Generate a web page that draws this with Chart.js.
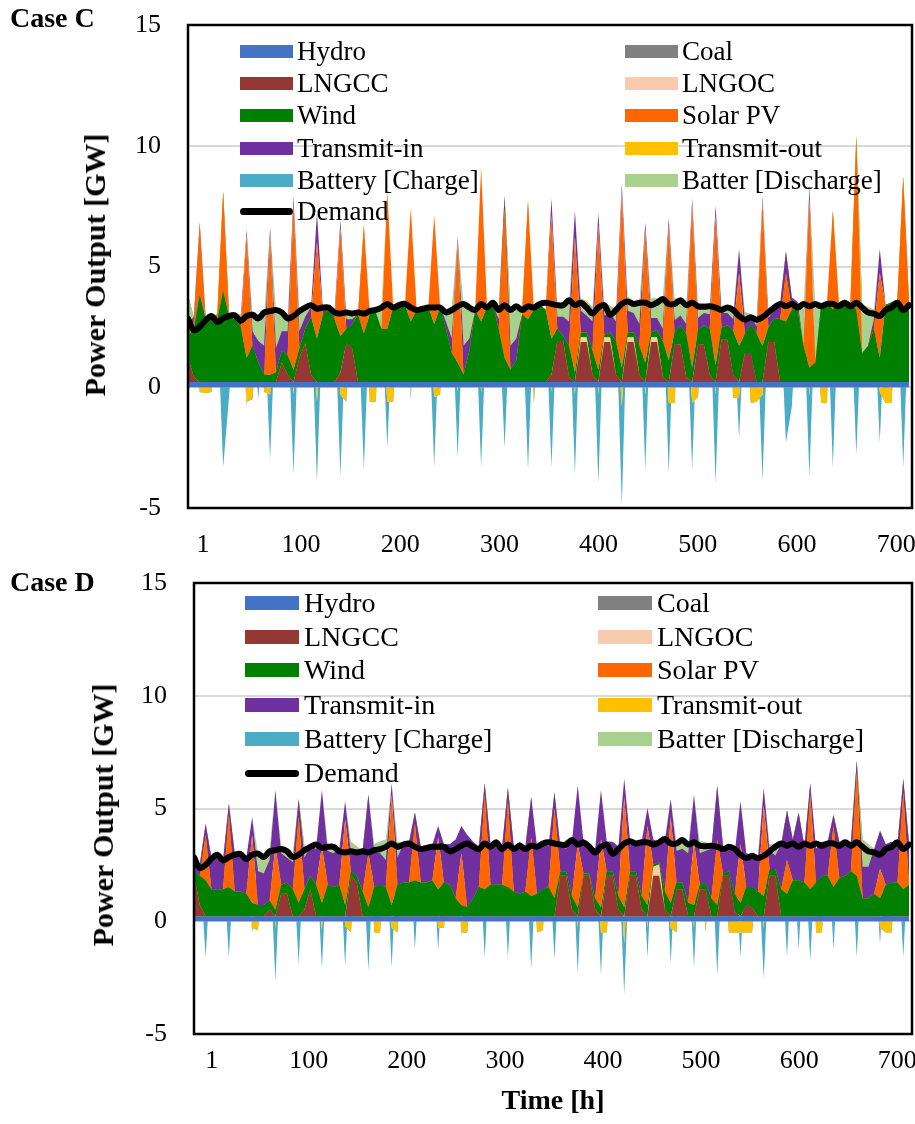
<!DOCTYPE html>
<html>
<head>
<meta charset="utf-8">
<script src="https://cdn.jsdelivr.net/npm/chart.js@4.4.1/dist/chart.umd.min.js"></script>
<style>
  body { margin: 0; background: #fff; font-family: "Liberation Serif", "Times New Roman", serif; }
  #page { position: relative; width: 915px; height: 1124px; overflow: hidden; }
  .panel { position: absolute; left: 0; width: 915px; }
  .lbl { position: absolute; white-space: nowrap; color: #000; line-height: 1; }
  .bold { font-weight: bold; }
  .ytitle { transform: translate(-50%, -50%) rotate(-90deg); }
  .center { transform: translate(-50%, -50%); }
  .item { position: absolute; display: flex; align-items: center; white-space: nowrap; line-height: 1; }
  .sw { display: inline-block; }
</style>
</head>
<body>
<div id="page">
  <div class="panel" style="top:0;height:560px"><canvas id="chartC"></canvas></div>
  <div class="panel" style="top:560px;height:564px"><canvas id="chartD"></canvas></div>
  <div class="lbl bold" style="left:10px;top:4px;font-size:28px">Case C</div>
  <div class="lbl bold" style="left:10px;top:568px;font-size:28px">Case D</div>
  <div class="lbl bold ytitle" style="left:95px;top:265px;font-size:30px">Power Output [GW]</div>
  <div class="lbl bold ytitle" style="left:103px;top:815px;font-size:30px">Power Output [GW]</div>
  <div class="lbl bold center" style="left:553px;top:1100px;font-size:28px">Time [h]</div>
  <div id="legC"></div>
  <div id="legD"></div>
</div>
<script>
// time axis: 31 days, four readings per day (01h, 07h, 13h, 19h)
const slotHours = [1, 7, 13, 19];
const dayCount = 31;
const hours = [];
for (let d = 0; d < dayCount; d++) for (const h of slotHours) hours.push(d * 24 + h);

const xTickLabels = [1, 100, 200, 300, 400, 500, 600, 700];
const yTicks = [-5, 0, 5, 10, 15];

const seriesNames = ["Hydro", "Coal", "LNGCC", "LNGOC", "Wind", "Solar PV", "Transmit-in",
  "Transmit-out", "Battery [Charge]", "Batter [Discharge]", "Demand"];

const hydroLevel = 0.22;
const coalLevel = 0;
const Z = [0, 0, 0, 0];

// demand is the same in both cases
const demand = [[2.84,2.36,2.50,2.77],[2.95,2.70,2.85,2.95],[2.98,2.75,2.95,3.00],[2.85,3.10,3.15,3.20],
  [3.10,2.85,2.95,3.15],[3.30,3.40,3.25,3.30],[3.30,3.10,3.05,3.10],[3.05,3.10,3.05,3.15],
  [3.20,3.30,3.45,3.30],[3.40,3.45,3.30,3.20],[3.25,3.30,3.30,3.30],[3.10,3.20,3.35,3.45],
  [3.30,3.20,3.45,3.30],[3.50,3.20,3.40,3.20],[3.35,3.20,3.35,3.30],[3.45,3.50,3.45,3.40],
  [3.40,3.60,3.40,3.50],[3.30,3.05,3.30,3.40],[3.00,3.20,3.45,3.55],[3.45,3.50,3.50,3.40],
  [3.50,3.65,3.45,3.45],[3.60,3.40,3.50,3.35],[3.33,3.35,3.30,3.20],[3.30,3.20,2.95,2.80],
  [2.90,2.80,2.90,3.10],[3.30,3.45,3.35,3.45],[3.30,3.45,3.35,3.45],[3.35,3.45,3.45,3.35],
  [3.50,3.35,3.50,3.30],[3.10,3.05,2.95,3.20],[3.30,3.50,3.20,3.40]].flat();

// ---- Case C ----
const lngccC = [[1.0,0.2,0,0],Z,Z,Z,[0.8,0.3,0,1.0],[1.6,0.3,0,0],[0,0,0.4,1.6],[1.4,0,0,0],
  Z,Z,Z,Z,Z,Z,Z,[0,0,0.3,1.7],[1.7,0.2,0,1.65],[1.65,0.3,0,1.65],[1.65,0.3,0,1.65],[1.65,0.3,0,1.65],
  [1.65,0.2,0,1.55],[1.55,0.2,0,1.55],[1.55,0.3,0,1.75],[1.75,0.3,0,1.2],[1.2,0,0,1.65],[1.65,0,0,0],
  Z,Z,Z,Z,Z].flat();
const lngocC = [Z,Z,Z,Z,Z,Z,Z,Z,Z,Z,Z,Z,Z,Z,Z,Z,[0,0,0,0.2],[0.2,0,0,0.2],[0.2,0,0,0.2],[0.2,0,0,0.2],
  [0.2,0,0,0],Z,Z,Z,Z,Z,Z,Z,Z,Z,Z].flat();
const windC = [[0.9,2.0,3.6,2.6],[2.7,2.6,3.8,2.7],[2.6,2.3,1.0,1.5],[0.8,0.3,0.3,0.4],[0.5,0.8,0.5,0.4],
  [0.6,2.4,1.8,2.8],[3.0,2.6,1.5,0.6],[1.0,2.8,2.0,2.8],[2.9,2.2,2.2,3.1],[3.2,3.2,2.5,3.0],
  [3.0,3.1,2.4,3.1],[2.2,1.2,0.8,0.3],[1.3,3.0,2.5,3.1],[3.2,2.2,1.0,0.5],[0.9,2.8,2.6,3.0],
  [3.2,3.0,1.5,0.5],[0.2,1.3,0.4,0.2],[0.2,1.0,0.5,0.1],[0.2,1.4,0.6,0.2],[0.2,1.2,0.8,0.2],
  [0.3,1.5,0.9,0.5],[0.8,1.8,0.6,0.6],[0.8,1.9,0.7,0.5],[0.6,1.8,1.5,0.8],[1.2,2.0,1.5,0.6],
  [1.0,2.6,2.5,3.0],[3.0,1.5,0.6,0.8],[3.2,3.3,3.0,3.3],[3.4,3.3,3.0,1.2],[1.5,2.2,1.0,3.2],
  [3.3,3.4,3.0,3.3]].flat();
const solarC = [[0,0.3,3.0,0],[0,0.2,4.1,0],[0,0,5.1,0],[0,0,5.8,0],[0,0,6.9,0],[0,0,4.0,0],[0,0,4.5,0],
  [0,0,4.5,0],[0,0,5.7,0],[0,0,4.7,0],[0,0,4.5,0],[0,0,5.0,0],[0,0,6.4,0],[0,0,6.2,0],[0,0,4.9,0],
  [0,0,5.1,0],[0,0,5.6,0],[0,0,6.0,0],[0,0,7.3,0],[0,0,5.5,0],[0,0,5.6,0],[0,0,6.7,0],[0,0,6.2,0],
  [0,0,3.0,0],[0,0,6.0,0],[0,0,2.0,0],[0,0,7.0,0],[0,0,4.1,0],[0,0,7.2,0],[0,0,3.5,0],[0,0,5.5,0]].flat();
const transInC = [[0.5,0.2,0,0.1],[0,0,0,0.1],[0.2,0.3,0.2,0.6],[0.9,1.2,0.3,1.0],[0.8,1.0,0.3,0.7],
  [0.5,0.4,1.2,0.2],[0.1,0.3,0.3,0.4],[0.2,0,0,0],Z,Z,Z,[0.3,0.6,0.2,1.2],[0.5,0,0,0],[0,0.4,0.5,1.0],
  [0.9,0,0,0],[0,0,0.7,0.5],[0.8,1.0,1.1,0.9],[0.7,1.2,0.5,0.8],[0.8,0.8,0.3,0.9],[0.8,0.9,0.3,0.6],
  [0.5,0.5,0.3,0.5],[0.4,0.4,0.3,0.5],[0.5,0.6,0.4,0.6],[0.5,0.5,1.0,0.5],[0.3,0.3,0.2,0.4],
  [0.3,0.6,0.9,0.5],[0.3,0,0.5,0],Z,Z,[0,0.4,1.0,0],Z].flat();
const dischargeC = [[1.2,0,0,0],Z,[0,0.2,0,0.7],[1.1,1.3,0,1.6],[0.8,0.6,0,0.9],[0.5,0,0,0],[0,0,0,0.3],
  [0.3,0,0,0.2],[0,0.9,0,0],Z,Z,[0.5,1.3,0,1.7],[1.3,0,0,0],[0,0.4,0,1.5],[1.3,0.2,0,0],[0,0,0,0.4],
  [0.6,0.8,0,0.5],[0.6,0.6,0,0.5],[0.3,0.5,0,0.6],[0.5,0.9,0,0.8],[0.8,1.3,0,0.9],[0.7,0.8,0,0.6],
  [0.4,0.4,0,0.3],[0.3,0.3,0,0.4],[0.1,0.3,0,0.4],[0.2,0,0,0],[0,1.5,0,2.3],Z,[0,0,0,2.0],[1.6,0.4,0,0],
  Z].flat();
const transOutC = [[-0.8,0,-0.2,-0.25],[-0.2,0,0,0],[0,0,-0.6,-0.5],[0,-0.2,-0.3,0],[0,0,-0.3,0],
  [0,0,-0.6,0],[0,0,-0.3,-0.6],[0,0,0,-0.6],[-0.6,0,-0.6,-0.6],[0,0,-0.3,0],[0,0,-0.4,-0.3],[0,0,-0.2,0],
  [0,0,-0.2,0],Z,[0,0,0,-0.7],[0,0,-0.2,0],[0,0,-0.3,0],[0,0,-0.3,0],[0,0,-0.8,0],[0,0,-0.3,0],
  [0,0,-0.65,-0.65],[0,0,-0.65,-0.4],[0,0,-0.3,0],[0,-0.45,-0.45,0],[-0.65,-0.6,-0.3,0],Z,[0,0,-0.35,0],
  [-0.65,-0.65,0,0],Z,[0,0,-0.2,-0.65],[-0.65,0,0,0]].flat();
const chargeC = [Z,[0,0,-3.3,-0.4],[0,0,-0.2,0],[-0.5,0,-2.7,0],[0,0,-3.3,0],[0,0,-3.3,0],[0,0,-3.4,0],
  [0,0,-3.4,0],[0,0,-1.9,0],[0,0,-0.2,0],[0,0,-2.9,0],[0,0,-2.7,0],[0,0,-3.1,0],[0,0,-2.5,0],
  [0,0,-3.4,0],[0,0,-3.1,0],[0,0,-3.3,0],[0,0,-3.7,0],[0,0,-4.1,0],[0,0,-3.1,0],[0,0,-2.95,0],
  [0,0,-2.75,0],[0,0,-3.7,0],[0,0,-1.65,0],[0,0,-3.55,0],[0,0,-2.3,-0.8],[0,0,-3.35,0],[0,0,-3.3,0],
  [0,0,-2.8,0],[0,0,-2.1,0],[0,0,-3.3,0]].flat();

// ---- Case D ----
const lngccD = [[1.8,0.5,0,0],Z,Z,[0,0.3,0,1.0],[1.0,0,0,0.3],[1.2,0,0,0],[0,0,0,1.8],[1.5,0,0,0],
  Z,Z,Z,Z,Z,Z,Z,[0,0,0,1.8],[1.8,0.3,0,1.8],[1.8,0.3,0,1.8],[1.8,0.3,0,1.8],[1.8,0.3,0,1.8],
  [1.8,0.3,0,1.2],[1.2,0,0,1.2],[1.2,0,0,1.8],[1.8,0.2,0,0.5],[0.4,0,0,1.8],[1.8,0,0,0],
  Z,Z,Z,Z,Z].flat();
const lngocD = [Z,Z,Z,Z,Z,Z,Z,Z,Z,Z,Z,Z,Z,Z,Z,Z,Z,Z,Z,[0,0,0,0.4],[0.5,0,0,0],
  Z,Z,Z,Z,Z,Z,Z,Z,Z,Z].flat();
const windD = [[0.2,1.3,1.6,1.2],[1.2,1.2,1.3,1.1],[1.1,1.0,0.6,0.5],[0.5,0.4,0.3,0.4],[0.5,1.2,0.6,0.9],
  [0.6,1.4,0.6,1.4],[1.3,1.4,0.5,0.2],[0.3,1.1,0.4,1.3],[1.4,1.3,0.5,1.4],[1.5,1.5,1.6,1.5],
  [1.5,1.6,1.2,1.5],[1.4,0.8,0.5,0.4],[0.8,1.3,1.2,1.4],[1.4,1.4,1.3,1.1],[1.0,1.1,0.9,1.0],
  [1.2,1.3,0.8,0.2],[0.2,0.6,0.4,0.1],[0.1,0.5,0.4,0.2],[0.2,0.6,0.4,0.2],[0.2,0.6,0.5,0.1],
  [0.1,0.8,0.6,0.3],[0.3,0.6,0.5,0.2],[0.3,0.8,0.5,0.1],[0.2,0.8,0.6,0.8],[0.9,1.1,0.9,0.3],
  [0.3,1.2,1.0,1.6],[1.6,1.5,1.2,1.5],[1.8,1.8,1.3,1.7],[1.8,2.0,1.8,0.8],[0.8,1.0,0.8,1.4],
  [1.5,1.5,1.2,1.4]].flat();
const solarD = [[0,0,2.0,0],[0,0,3.2,0],[0,0,3.0,0],[0,0,2.8,0],[0,0,3.8,0],[0,0,2.5,0],[0,0,3.8,0],
  [0,0,2.4,0],[0,0,4.9,0],[0,0,2.5,0],[0,0,2.3,0],[0,0,2.3,0],[0,0,4.2,0],[0,0,3.8,0],[0,0,2.6,0],
  [0,0,4.0,0],[0,0,2.8,0],[0,0,3.0,0],[0,0,4.9,0],[0,0,3.5,0],[0,0,3.8,0],[0,0,2.8,0],[0,0,2.9,0],
  [0,0,2.6,0],[0,0,4.0,0],[0,0,1.5,0],[0,0,4.2,0],[0,0,2.7,0],[0,0,4.6,0],[0,0,1.3,0],[0,0,4.3,0]].flat();
const transInD = [[0.5,0.5,0.5,1.4],[1.5,1.3,0.5,1.7],[1.7,1.6,0.8,1.5],[1.4,1.8,2.5,1.4],[1.1,1.2,0.8,1.4],
  [1.3,1.6,2.5,1.5],[1.5,1.6,0.8,0.8],[1.0,1.8,2.6,1.6],[1.4,1.2,0.5,1.2],[1.7,1.8,0.5,1.6],
  [1.6,1.6,0.5,1.7],[1.8,2.6,1.2,3.2],[2.5,1.8,0.5,1.8],[1.9,1.7,0.6,2.0],[2.3,2.0,1.8,2.1],
  [2.1,1.8,0.7,1.1],[1.0,2.4,2.6,1.4],[1.3,2.2,2.2,1.3],[1.3,2.2,0.8,1.4],[1.3,2.4,0.8,1.1],
  [0.9,2.2,0.8,1.4],[1.5,2.2,2.1,1.4],[1.4,2.2,2.4,1.2],[1.1,1.8,1.9,1.5],[1.4,1.4,0.8,0.8],
  [0.6,2.0,2.2,1.8],[3.0,1.6,0.5,1.5],[1.5,1.5,0.5,1.6],[1.5,1.3,0.5,1.4],[1.4,2.0,1.7,1.8],
  [1.8,1.7,0.6,1.8]].flat();
const dischargeD = [[0.3,0,0,0],Z,[0,0,0,0.8],[0.8,0.5,0,0.3],[0.3,0.3,0,0.5],[0,0,0,0.3],[0.4,0,0,0.5],
  [0.3,0,0,0.3],[0.5,0.9,0,0.7],Z,Z,Z,Z,Z,Z,Z,[0.4,0,0,0],Z,Z,Z,[0,0.2,0,0.4],[0.4,0.4,0,0.5],
  [0.4,0,0,0],Z,[0,0.2,0,0.3],[0.5,0,0,0],Z,Z,[0,0,0,1.2],[1.0,0,0,0],Z].flat();
const transOutD = [[-0.5,0,0,0],Z,[0,0,-0.3,-0.4],[0,0,-0.3,0],Z,[0,0,-0.4,0],[0,0,-0.2,-0.5],[0,0,0,-0.5],
  [-0.5,0,-0.3,-0.5],Z,[0,0,-0.3,-0.3],[0,0,-0.5,-0.5],Z,Z,[0,0,0,-0.5],[-0.4,0,0,0],[0,0,-0.3,0],
  [0,0,-0.5,-0.5],[0,0,-1.0,0],[0,0,-0.3,0],[0,0,-0.3,-0.5],[0,0,-0.3,0],[-0.5,0,0,0],
  [-0.5,-0.5,-0.5,-0.5],[-0.5,0,-0.3,0],Z,[0,0,0,-0.5],[-0.5,0,0,0],Z,[0,0,-0.3,-0.5],[-0.5,0,0,0]].flat();
const chargeD = [[0,0,-1.6,0],[0,0,-1.6,0],[0,0,-0.2,0],[0,0,-2.35,0],[0,0,-1.9,0],[0,0,-1.7,0],
  [0,0,-1.8,0],[0,0,-2.2,0],[0,0,-1.75,0],[0,0,-1.25,0],[0,0,-1.0,0],[0,0,-0.2,0],[0,0,-1.6,0],
  [0,0,-1.6,0],[0,0,-2.1,0],[0,0,-1.7,0],[0,0,-2.0,0],[0,0,-1.9,0],[0,0,-2.25,0],[0,0,-1.3,0],
  [0,0,-1.6,0],[0,0,-1.75,0],[0,0,-2.4,0],[0,0,-1.1,0],[0,0,-2.25,0],[0,0,-1.6,0],[-1.25,0,-1.75,0],
  [0,0,-1.25,0],[0,0,-1.6,0],[0,0,-0.7,0],[0,0,-1.6,0]].flat();

const colors = {
  "Hydro": "#4472C4", "Coal": "#808080", "LNGCC": "#953735", "LNGOC": "#F8CBAD",
  "Wind": "#008000", "Solar PV": "#FF6600", "Transmit-in": "#7030A0", "Transmit-out": "#FFC000",
  "Battery [Charge]": "#4BACC6", "Batter [Discharge]": "#A9D18E", "Demand": "#000000"
};

function area(label, data, fill) {
  return {
    label, data, fill,
    backgroundColor: colors[label],
    borderColor: "rgba(0,0,0,0)",
    borderWidth: 0,
    pointRadius: 0,
    tension: 0,
    stack: "gen",
    order: 1
  };
}

const framePlugin = {
  id: "frame",
  afterDatasetsDraw(chart) {
    const { ctx, chartArea: a } = chart;
    ctx.save();
    ctx.strokeStyle = "#000";
    ctx.lineWidth = 2.5;
    ctx.strokeRect(a.left, a.top, a.right - a.left, a.bottom - a.top);
    ctx.restore();
  }
};

const tickFont = { family: "Liberation Serif", size: 26 };

// keep the plot box where it is in the original: no extra room for overhanging labels
function noOverhang(sc) {
  sc.paddingTop = 0; sc.paddingBottom = 0; sc.paddingLeft = 0; sc.paddingRight = 0;
}

function buildChart(id, s, box) {
  const datasets = [
    area("Hydro", hours.map(() => hydroLevel), "origin"),
    area("Coal", hours.map(() => coalLevel), "-1"),
    area("LNGCC", s.lngcc, "-1"),
    area("LNGOC", s.lngoc, "-1"),
    area("Wind", s.wind, "-1"),
    area("Solar PV", s.solar, "-1"),
    area("Transmit-in", s.transIn, "-1"),
    area("Batter [Discharge]", s.discharge, "-1"),
    area("Transmit-out", s.transOut, "origin"),
    area("Battery [Charge]", s.charge, "-1"),
    {
      label: "Demand", data: demand, fill: false, stack: "demand", order: 0,
      borderColor: "#000", borderWidth: 6, pointRadius: 0, tension: 0.35,
      borderCapStyle: "round", borderJoinStyle: "round"
    }
  ];
  const canvas = document.getElementById(id);
  canvas.width = 915; canvas.height = box.h;
  return new Chart(canvas, {
    type: "line",
    data: { labels: hours, datasets },
    plugins: [framePlugin],
    options: {
      responsive: false,
      animation: false,
      events: [],
      layout: { padding: { left: 0, top: box.top, right: 915 - box.right, bottom: 0 } },
      plugins: { legend: { display: false }, tooltip: { enabled: false } },
      scales: {
        x: { type: "linear", min: 1, max: 742, display: false },
        xt: {
          type: "linear", position: "bottom", min: box.tMin, max: box.tMax,
          grid: { display: false }, border: { display: false },
          afterBuildTicks: sc => { sc.ticks = xTickLabels.map(v => ({ value: v })); },
          ticks: { autoSkip: false, maxRotation: 0, padding: box.tickPad, font: tickFont, color: "#000" },
          afterFit: sc => { sc.height = box.h - box.bottom; noOverhang(sc); }
        },
        y: {
          stacked: true, min: -5, max: 15,
          afterBuildTicks: sc => { sc.ticks = yTicks.map(v => ({ value: v })); },
          ticks: { padding: 27, font: tickFont, color: "#000" },
          grid: {
            drawTicks: false, lineWidth: 2,
            color: c => (c.tick && [0, 5, 10].includes(c.tick.value)) ? "#d9d9d9" : "rgba(0,0,0,0)"
          },
          border: { display: false },
          afterFit: sc => { sc.width = box.left; noOverhang(sc); }
        }
      }
    }
  });
}

buildChart("chartC", {
  lngcc: lngccC, lngoc: lngocC, wind: windC, solar: solarC, transIn: transInC,
  discharge: dischargeC, transOut: transOutC, charge: chargeC
}, { h: 560, left: 188, top: 25, right: 912, bottom: 508, tMin: -14, tMax: 716, tickPad: 14 });

buildChart("chartD", {
  lngcc: lngccD, lngoc: lngocD, wind: windD, solar: solarD, transIn: transInD,
  discharge: dischargeD, transOut: transOutD, charge: chargeD
}, { h: 564, left: 194, top: 23, right: 912, bottom: 474, tMin: -17, tMax: 715, tickPad: 4 });

// legends, two columns, drawn over the plot as in the original
function buildLegend(id, lay) {
  const host = document.getElementById(id);
  seriesNames.forEach((name, i) => {
    const row = Math.floor(i / 2), col = i % 2;
    const item = document.createElement("div");
    item.className = "item";
    item.style.left = lay.cols[col] + "px";
    item.style.top = (lay.rows[row] - lay.font / 2) + "px";
    item.style.height = lay.font + "px";
    item.style.fontSize = lay.font + "px";
    const sw = document.createElement("span");
    sw.className = "sw";
    sw.style.width = lay.sw + "px";
    if (name === "Demand") {
      sw.style.height = "7px";
      sw.style.borderRadius = "4px";
    } else {
      sw.style.height = lay.swh + "px";
    }
    sw.style.background = colors[name];
    sw.style.marginRight = lay.gap + "px";
    const tx = document.createElement("span");
    tx.textContent = name;
    item.appendChild(sw);
    item.appendChild(tx);
    host.appendChild(item);
  });
}
buildLegend("legC", { cols: [240, 625], rows: [51, 83, 115, 148, 180, 211], font: 27, sw: 53, swh: 13, gap: 4 });
buildLegend("legD", { cols: [245, 598], rows: [603, 637, 670, 705, 739, 773], font: 28, sw: 54, swh: 14, gap: 5 });
</script>
</body>
</html>
